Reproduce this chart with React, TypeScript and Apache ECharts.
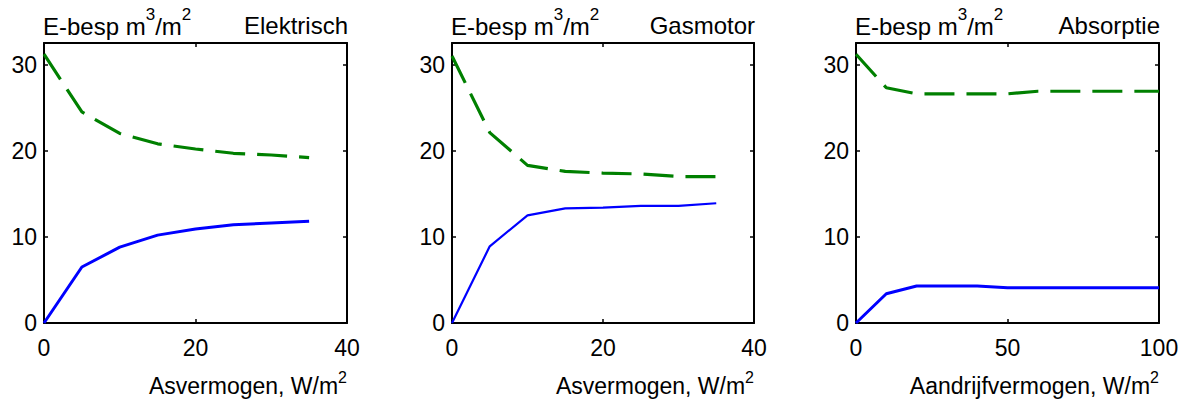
import React, { useEffect, useRef } from 'react';
import * as echarts from 'echarts';

const panelTitles = ['Elektrisch', 'Gasmotor', 'Absorptie'];
const xAxisNames = ['Asvermogen, W/m', 'Asvermogen, W/m', 'Aandrijfvermogen, W/m'];
const xMax = [40, 40, 100];
const xInterval = [20, 20, 50];
const yMax = 32.5;
const yInterval = 10;

const xElektrisch = [0, 5, 10, 15, 20, 25, 30, 35];
const greenElektrisch = [31.2, 24.5, 22.0, 20.8, 20.2, 19.7, 19.5, 19.2];
const blueElektrisch = [0, 6.5, 8.8, 10.2, 10.9, 11.4, 11.6, 11.8];

const xGasmotor = [0, 5, 10, 15, 20, 25, 30, 35];
const greenGasmotor = [31.0, 22.1, 18.3, 17.6, 17.4, 17.3, 17.0, 17.0];
const blueGasmotor = [0, 8.9, 12.5, 13.3, 13.4, 13.6, 13.6, 13.9];

const xAbsorptie = [0, 10, 20, 30, 40, 50, 60, 70, 80, 90, 100];
const greenAbsorptie = [31.2, 27.3, 26.6, 26.6, 26.6, 26.6, 26.9, 26.9, 26.9, 26.9, 26.9];
const blueAbsorptie = [0, 3.4, 4.3, 4.3, 4.3, 4.1, 4.1, 4.1, 4.1, 4.1, 4.1];

const panelX = [xElektrisch, xGasmotor, xAbsorptie];
const panelGreen = [greenElektrisch, greenGasmotor, greenAbsorptie];
const panelBlue = [blueElektrisch, blueGasmotor, blueAbsorptie];
const blueWidths = [3, 2.2, 3];

const FONT = 'Liberation Sans';
const FS = 23;
const grids = [
  { left: 44, width: 303 },
  { left: 452, width: 302 },
  { left: 856, width: 303 },
];
const TOP = 43;
const HEIGHT = 280;

export default function App() {
  const ref = useRef<HTMLDivElement>(null);
  useEffect(() => {
    if (!ref.current) return;
    const chart = echarts.init(ref.current, null, { renderer: 'svg' });
    const axisLine = { show: true, onZero: false, lineStyle: { color: '#000', width: 2 } };
    const tick = { show: true, inside: true, length: 4, lineStyle: { color: '#000', width: 1.5 } };
    const xAxis: any[] = [];
    const yAxis: any[] = [];
    const series: any[] = [];
    const title: any[] = [];
    grids.forEach((g, i) => {
      xAxis.push({
        type: 'value', gridIndex: i, position: 'bottom', min: 0, max: xMax[i], interval: xInterval[i],
        axisLine, axisTick: tick, splitLine: { show: false },
        axisLabel: { fontFamily: FONT, fontSize: FS, color: '#000', margin: 13 },
        name: '{a|' + xAxisNames[i] + '}{s|2}',
        nameLocation: 'end', nameGap: 0,
        nameTextStyle: {
          align: 'right', verticalAlign: 'top', padding: [46, 0, 0, 0],
          rich: {
            a: { fontFamily: FONT, fontSize: FS, fontWeight: 'normal', color: '#000', lineHeight: 28, verticalAlign: 'bottom' },
            s: { fontFamily: FONT, fontSize: 16, fontWeight: 'normal', color: '#000', lineHeight: 28, verticalAlign: 'top' },
          },
        },
      });
      xAxis.push({
        type: 'value', gridIndex: i, position: 'top', min: 0, max: xMax[i], interval: xInterval[i],
        axisLine, axisTick: tick, splitLine: { show: false }, axisLabel: { show: false },
      });
      yAxis.push({
        type: 'value', gridIndex: i, position: 'left', min: 0, max: yMax, interval: yInterval,
        axisLine, axisTick: tick, splitLine: { show: false },
        axisLabel: {
          fontFamily: FONT, fontSize: FS, color: '#000', margin: 7,
          formatter: (v: number) => (v % 10 === 0 ? String(v) : ''),
        },
      });
      yAxis.push({
        type: 'value', gridIndex: i, position: 'right', min: 0, max: yMax, interval: yInterval,
        axisLine, axisTick: tick, splitLine: { show: false }, axisLabel: { show: false },
      });
      series.push({
        type: 'line', xAxisIndex: 2 * i, yAxisIndex: 2 * i, showSymbol: false, symbol: 'none',
        data: panelX[i].map((x, k) => [x, panelGreen[i][k]]),
        lineStyle: { color: '#008000', width: 3.2, type: [30, 12] },
      });
      series.push({
        type: 'line', xAxisIndex: 2 * i, yAxisIndex: 2 * i, showSymbol: false, symbol: 'none',
        data: panelX[i].map((x, k) => [x, panelBlue[i][k]]),
        lineStyle: { color: '#0000ff', width: blueWidths[i] },
      });
      title.push({
        text: '{a|E-besp m}{s|3}{a|/m}{s|2}',
        left: g.left - 1, top: 6, padding: 0,
        textStyle: {
          fontWeight: 'normal',
          rich: {
            a: { fontFamily: FONT, fontSize: 24, fontWeight: 'normal', color: '#000', lineHeight: 32, verticalAlign: 'bottom' },
            s: { fontFamily: FONT, fontSize: 17, fontWeight: 'normal', color: '#000', lineHeight: 32, verticalAlign: 'top' },
          },
        },
      });
      title.push({
        text: panelTitles[i],
        right: 1190 - (g.left + g.width) - 1, top: 13, padding: 0,
        textStyle: { fontFamily: FONT, fontSize: FS + 1, fontWeight: 'normal', color: '#000' },
      });
    });
    chart.setOption({
      animation: false,
      backgroundColor: '#fff',
      title,
      grid: grids.map((g) => ({ left: g.left, width: g.width, top: TOP, height: HEIGHT, containLabel: false })),
      xAxis,
      yAxis,
      series,
    });
    return () => chart.dispose();
  }, []);
  return (
    <div
      ref={ref}
      style={{ position: 'fixed', left: 0, top: 0, width: 1190, height: 399, background: '#fff' }}
    />
  );
}
